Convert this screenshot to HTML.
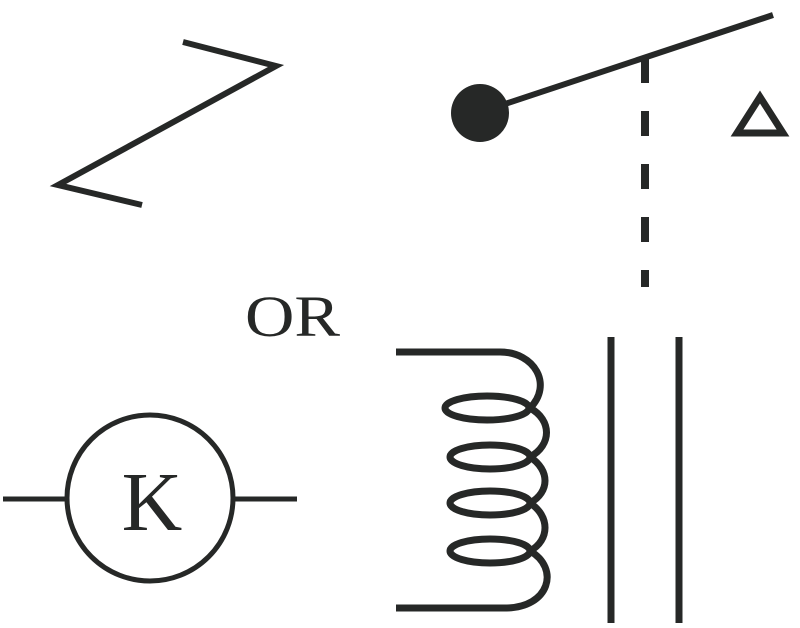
<!DOCTYPE html>
<html><head><style>html,body{margin:0;padding:0;background:#fff;width:800px;height:628px;overflow:hidden}</style></head>
<body>
<svg width="800" height="628" viewBox="0 0 800 628" xmlns="http://www.w3.org/2000/svg">
<g fill="none" stroke="#262827" stroke-width="7">
<polyline points="183,42 276,66 58,185 142,205" stroke-width="6"/>
<line x1="505" y1="104" x2="773" y2="15" stroke-width="6"/>
<line x1="645" y1="58" x2="645" y2="287" stroke-dasharray="25,28" stroke-width="8"/>
<polygon points="760,97 737,133 783,133" stroke-width="7"/>
<circle cx="150" cy="498" r="83" stroke-width="5"/>
<line x1="3" y1="499" x2="67" y2="499" stroke-width="5"/>
<line x1="233" y1="499" x2="297" y2="499" stroke-width="5"/>
<line x1="611" y1="337" x2="611" y2="623"/>
<line x1="679" y1="337" x2="679" y2="623"/>
<path d="M396 352 H500 C535 352 553 385 530 408"/>
<path d="M530 408 C552 420 552 445 530 457"/>
<path d="M530 457 C550 470 550 492 530 503"/>
<path d="M530 503 C550 516 550 540 530 551"/>
<path d="M530 551 C560 568 550 608 505 608 H396"/>
<ellipse cx="487" cy="408" rx="42" ry="12"/>
<ellipse cx="490" cy="457" rx="40" ry="12"/>
<ellipse cx="490" cy="503" rx="40" ry="12"/>
<ellipse cx="490" cy="551" rx="40" ry="12"/>
</g>
<circle cx="480" cy="113" r="29" fill="#262827"/>
<text x="245" y="336" font-family="Liberation Serif, serif" font-size="58" textLength="95" lengthAdjust="spacingAndGlyphs" fill="#262827">OR</text>
<text x="152" y="530" font-family="Liberation Serif, serif" font-size="84" text-anchor="middle" fill="#262827">K</text>
</svg>
</body></html>
